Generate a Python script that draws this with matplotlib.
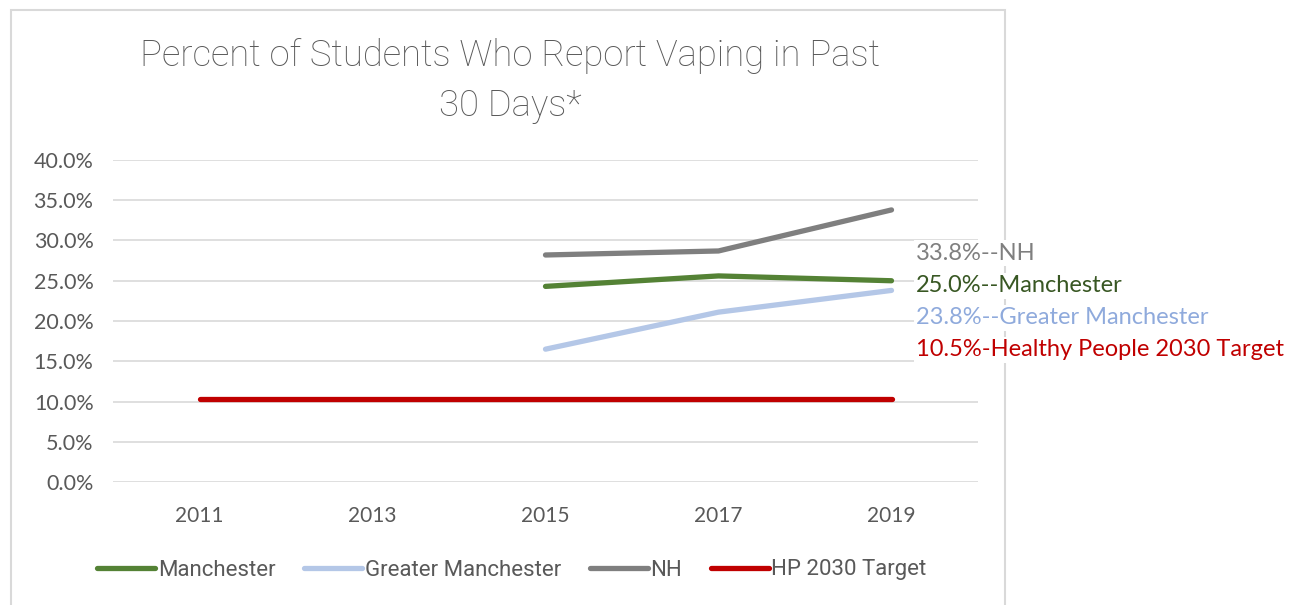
#!/usr/bin/env python3
"""Percent of students who report vaping in past 30 days."""

import matplotlib

matplotlib.use("Agg")
import matplotlib.pyplot as plt
from matplotlib.patches import Rectangle
from matplotlib.ticker import FuncFormatter

years = ["2011", "2013", "2015", "2017", "2019"]
manchester = [None, None, 24.3, 25.6, 25.0]
greater_manchester = [None, None, 16.5, 21.1, 23.8]
nh = [None, None, 28.2, 28.7, 33.8]
hp_target = [10.3, 10.3, 10.3, 10.3, 10.3]

series_labels = ["Manchester", "Greater Manchester", "NH", "HP 2030 Target"]
end_labels = [
    "33.8%--NH",
    "25.0%--Manchester",
    "23.8%--Greater Manchester",
    "10.5%-Healthy People 2030 Target",
]

GREEN = "#548235"
LIGHT_BLUE = "#b4c7e7"
GRAY = "#7f7f7f"
RED = "#c00000"
TEXT = "#595959"
NARROW = ["Roboto", "DejaVu Sans"]
BODY = ["Lato", "DejaVu Sans"]


def plot_series(axis, values, color, label):
    xs = [i for i, v in enumerate(values) if v is not None]
    ys = [v for v in values if v is not None]
    axis.plot(xs, ys, color=color, linewidth=3.8, solid_capstyle="round", label=label)


fig = plt.figure(figsize=(12.89, 6.05), dpi=100)
fig.patch.set_facecolor("white")

# chart frame
fig.add_artist(
    Rectangle(
        (11 / 1289, -0.05), 994 / 1289, 1.05 - 10 / 605,
        transform=fig.transFigure, fill=False, edgecolor="#d9d9d9", linewidth=1.5,
    )
)

ax = fig.add_axes([113 / 1289, 1 - 482 / 605, 865 / 1289, 322 / 605])
plot_series(ax, manchester, GREEN, series_labels[0])
plot_series(ax, greater_manchester, LIGHT_BLUE, series_labels[1])
plot_series(ax, nh, GRAY, series_labels[2])
plot_series(ax, hp_target, RED, series_labels[3])

ax.set_xlim(-0.5, len(years) - 0.5)
ax.set_ylim(0, 40)
ax.set_yticks(range(0, 41, 5))
ax.yaxis.set_major_formatter(FuncFormatter(lambda v, _: f"{v:.1f}%"))
ax.set_xticks(range(len(years)))
ax.set_xticklabels(years)
ax.grid(axis="y", color="#d9d9d9", linewidth=1.2)
ax.set_axisbelow(True)
for spine in ax.spines.values():
    spine.set_visible(False)
ax.tick_params(axis="both", length=0, colors=TEXT, labelsize=15)
ax.tick_params(axis="y", pad=14, labelsize=15.5)
ax.tick_params(axis="x", pad=17)
for label in ax.get_xticklabels() + ax.get_yticklabels():
    label.set_family(BODY)

fig.text(
    510 / 1289, 1 - 81 / 605,
    "Percent of Students Who Report Vaping in Past\n30 Days*",
    ha="center", va="center", fontsize=26.3, color=TEXT, family=NARROW,
    fontweight="light", linespacing=1.5,
)

label_colors = [GRAY, "#385723", "#8faadc", RED]
label_rows = [253, 286, 318, 350]
for text, color, row in zip(end_labels, label_colors, label_rows):
    fig.text(
        916 / 1289, 1 - row / 605, text,
        ha="left", va="center", fontsize=17, color=color, family=BODY,
        bbox=dict(facecolor="white", edgecolor="none", pad=1.5),
    )

legend = fig.legend(
    loc="center", bbox_to_anchor=(512 / 1289, 1 - 570 / 605), ncol=4, frameon=False,
    handlelength=2.6, handletextpad=0.12, columnspacing=1.3,
    prop={"family": NARROW, "size": 16},
)
for text in legend.get_texts():
    text.set_color(TEXT)

fig.savefig("out.png", dpi=100)
